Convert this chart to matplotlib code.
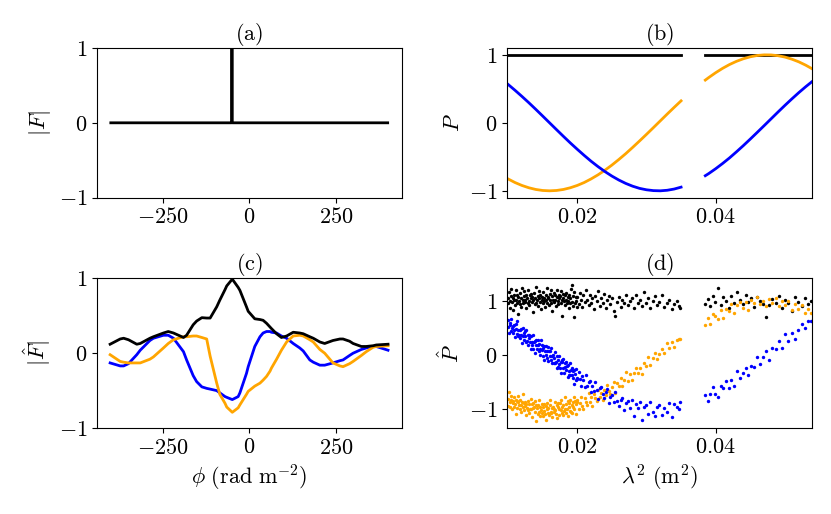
import numpy as np
import matplotlib
matplotlib.use("Agg")
import matplotlib.pyplot as plt

plt.rcParams["mathtext.fontset"] = "cm"
plt.rcParams["font.family"] = "serif"
plt.rcParams["font.serif"] = ["cmr10", "DejaVu Serif"]
plt.rcParams["axes.formatter.use_mathtext"] = True
plt.rcParams["font.size"] = 16

# (a) true Faraday spectrum
phi_a = [-400, -51, -50, -49, 400]
f_a = [0, 0, 1, 0, 0]

# (b) model polarisation, sampled every 0.001 m^2 (gap in coverage 0.035-0.0385)
lam2_b = [0.010, 0.011, 0.012, 0.013, 0.014, 0.015, 0.016, 0.017, 0.018, 0.019,
          0.020, 0.021, 0.022, 0.023, 0.024, 0.025, 0.026, 0.027, 0.028, 0.029,
          0.030, 0.031, 0.032, 0.033, 0.034, 0.035,
          0.0385, 0.039, 0.040, 0.041, 0.042, 0.043, 0.044, 0.045, 0.046, 0.047,
          0.048, 0.049, 0.050, 0.051, 0.052, 0.053, 0.054]
q_b = [-0.825, -0.878, -0.921, -0.955, -0.980, -0.995, -1.000, -0.995, -0.980, -0.955,
       -0.921, -0.878, -0.825, -0.765, -0.697, -0.622, -0.540, -0.454, -0.362, -0.267,
       -0.170, -0.071, 0.029, 0.129, 0.227, 0.323,
       0.628, 0.666, 0.737, 0.801, 0.857, 0.904, 0.942, 0.971, 0.990, 0.999,
       0.998, 0.987, 0.967, 0.936, 0.897, 0.848, 0.791]
u_b = [0.565, 0.479, 0.389, 0.296, 0.199, 0.100, 0.000, -0.100, -0.199, -0.296,
       -0.389, -0.479, -0.565, -0.644, -0.717, -0.783, -0.841, -0.891, -0.932, -0.964,
       -0.985, -0.997, -1.000, -0.992, -0.974, -0.946,
       -0.778, -0.746, -0.675, -0.598, -0.516, -0.427, -0.335, -0.239, -0.141, -0.042,
       0.058, 0.158, 0.256, 0.351, 0.443, 0.530, 0.612]
p_b = [1.0] * len(lam2_b)

# (c) reconstructed Faraday spectrum
phi_c = [-402, -373, -363, -349, -325, -315, -287, -277, -248, -234, -219, -190, -181,
         -162, -152, -137, -123, -113, -94, -85, -70, -65, -49, -32, -27, -8, -3, 16,
         31, 40, 50, 60, 64, 79, 93, 108, 127, 146, 156, 175, 185, 204, 218, 242, 262,
         271, 290, 300, 324, 338, 358, 367, 401]
absf_c = [0.12, 0.19, 0.20, 0.18, 0.12, 0.13, 0.20, 0.22, 0.27, 0.29, 0.27, 0.21, 0.24,
          0.38, 0.43, 0.475, 0.47, 0.47, 0.62, 0.71, 0.85, 0.90, 0.99, 0.88, 0.84, 0.62,
          0.56, 0.46, 0.45, 0.44, 0.40, 0.35, 0.33, 0.26, 0.21, 0.23, 0.28, 0.27, 0.26,
          0.22, 0.20, 0.15, 0.13, 0.17, 0.19, 0.19, 0.16, 0.13, 0.09, 0.09, 0.10, 0.11, 0.12]
imf_c = [-0.13, -0.17, -0.17, -0.14, -0.02, 0.04, 0.17, 0.20, 0.24, 0.24, 0.20, 0.02, -0.09,
         -0.30, -0.38, -0.45, -0.47, -0.48, -0.50, -0.53, -0.58, -0.59, -0.62, -0.58, -0.53,
         -0.27, -0.18, 0.09, 0.22, 0.27, 0.29, 0.29, 0.28, 0.27, 0.23, 0.20, 0.13, 0.07,
         0.03, -0.09, -0.12, -0.16, -0.16, -0.13, -0.10, -0.09, -0.03, 0.00, 0.05, 0.07,
         0.09, 0.09, 0.04]
ref_c = [-0.02, -0.11, -0.12, -0.13, -0.13, -0.13, -0.08, -0.05, 0.07, 0.13, 0.18, 0.22, 0.22,
         0.23, 0.23, 0.21, 0.19, -0.04, -0.40, -0.55, -0.67, -0.72, -0.79, -0.73, -0.69,
         -0.55, -0.51, -0.44, -0.40, -0.36, -0.31, -0.24, -0.20, -0.08, 0.04, 0.15, 0.23,
         0.24, 0.23, 0.18, 0.15, 0.05, 0.00, -0.13, -0.17, -0.18, -0.14, -0.11, -0.03, 0.02,
         0.08, 0.09, 0.10]

# (d) noisy observed polarisation
lam2_d = [0.01000, 0.01006, 0.01015, 0.01024, 0.01031, 0.01041, 0.01049, 0.01056, 0.01066, 0.01075,
          0.01083, 0.01090, 0.01100, 0.01108, 0.01115, 0.01125, 0.01133, 0.01141, 0.01150, 0.01158,
          0.01167, 0.01174, 0.01184, 0.01191, 0.01200, 0.01209, 0.01216, 0.01226, 0.01233, 0.01242,
          0.01250, 0.01259, 0.01266, 0.01276, 0.01283, 0.01292, 0.01300, 0.01309, 0.01317, 0.01325,
          0.01334, 0.01341, 0.01351, 0.01358, 0.01367, 0.01375, 0.01384, 0.01392, 0.01400, 0.01409,
          0.01417, 0.01426, 0.01433, 0.01442, 0.01451, 0.01458, 0.01468, 0.01475, 0.01484, 0.01492,
          0.01500, 0.01509, 0.01517, 0.01526, 0.01533, 0.01543, 0.01550, 0.01559, 0.01567, 0.01576,
          0.01584, 0.01592, 0.01601, 0.01608, 0.01618, 0.01625, 0.01634, 0.01642, 0.01651, 0.01659,
          0.01667, 0.01676, 0.01684, 0.01692, 0.01701, 0.01709, 0.01717, 0.01726, 0.01734, 0.01742,
          0.01751, 0.01759, 0.01768, 0.01775, 0.01785, 0.01792, 0.01801, 0.01809, 0.01818, 0.01826,
          0.01834, 0.01843, 0.01851, 0.01860, 0.01868, 0.01876, 0.01885, 0.01893, 0.01902, 0.01910,
          0.01918, 0.01927, 0.01935, 0.01944, 0.01952, 0.01960, 0.01969, 0.01977, 0.01986, 0.01994,
          0.02003, 0.02020, 0.02036, 0.02055, 0.02071, 0.02090, 0.02107, 0.02126, 0.02143, 0.02163,
          0.02181, 0.02201, 0.02220, 0.02240, 0.02260, 0.02281, 0.02301, 0.02323, 0.02344, 0.02366,
          0.02388, 0.02410, 0.02433, 0.02456, 0.02479, 0.02503, 0.02527, 0.02551, 0.02576, 0.02601,
          0.02626, 0.02652, 0.02678, 0.02705, 0.02732, 0.02759, 0.02787, 0.02815, 0.02844, 0.02873,
          0.02902, 0.02932, 0.02962, 0.02993, 0.03024, 0.03056, 0.03088, 0.03121, 0.03154, 0.03187,
          0.03221, 0.03256, 0.03291, 0.03326, 0.03362, 0.03398, 0.03435, 0.03472, 0.03490,
          0.03850, 0.03886, 0.03923, 0.03960, 0.03997, 0.04035, 0.04073, 0.04111, 0.04150, 0.04189,
          0.04228, 0.04268, 0.04308, 0.04349, 0.04390, 0.04431, 0.04473, 0.04515, 0.04557, 0.04600,
          0.04643, 0.04687, 0.04731, 0.04775, 0.04820, 0.04865, 0.04911, 0.04957, 0.05003, 0.05050,
          0.05097, 0.05145, 0.05193, 0.05241, 0.05290, 0.05339, 0.05370]
q_d = [-0.80, -0.93, -0.68, -0.87, -0.96, -0.82, -0.76, -1.00, -0.84, -0.89,
       -0.77, -0.95, -0.90, -0.82, -1.08, -0.85, -0.98, -0.87, -0.75, -0.92,
       -0.99, -0.82, -0.92, -1.05, -0.86, -0.96, -0.71, -1.02, -0.89, -0.93,
       -0.87, -1.11, -0.90, -0.97, -0.84, -1.02, -1.07, -0.91, -1.00, -0.80,
       -1.00, -0.91, -1.15, -0.88, -0.98, -0.95, -1.05, -0.84, -1.21, -0.92,
       -0.98, -1.09, -0.92, -1.04, -0.83, -1.13, -0.96, -1.01, -0.90, -1.06,
       -1.12, -0.96, -0.90, -1.03, -1.09, -0.94, -1.20, -0.99, -0.88, -1.06,
       -0.97, -1.11, -0.92, -0.82, -1.04, -1.07, -0.98, -1.15, -0.95, -1.00,
       -1.05, -0.86, -1.01, -1.08, -0.92, -1.16, -0.95, -0.89, -1.00, -1.11,
       -0.89, -1.01, -0.83, -1.06, -0.96, -1.11, -0.92, -1.03, -0.78, -1.00,
       -1.06, -0.91, -1.00, -0.85, -1.12, -0.88, -0.95, -1.03, -0.82, -1.05,
       -0.92, -1.06, -0.87, -0.95, -0.77, -1.00, -0.84, -1.08, -0.90, -0.82,
       -0.86, -1.00, -0.89, -0.77, -0.93, -0.99, -0.79, -0.86, -0.92, -0.70,
       -0.86, -0.78, -0.94, -0.71, -0.79, -0.85, -0.65, -0.78, -0.70, -0.82,
       -0.64, -0.74, -0.55, -0.67, -0.72, -0.59, -0.50, -0.70, -0.51, -0.56,
       -0.43, -0.56, -0.46, -0.31, -0.47, -0.34, -0.46, -0.33, -0.24, -0.32,
       -0.23, -0.35, -0.14, -0.19, -0.03, -0.18, -0.05, 0.04, -0.07, 0.03,
       0.11, 0.05, 0.22, 0.14, 0.24, 0.15, 0.29, 0.30, 0.30,
       0.56, 0.69, 0.58, 0.77, 0.72, 0.67, 0.83, 0.68, 0.85, 0.81,
       0.95, 0.78, 0.92, 0.98, 0.87, 0.98, 0.84, 1.03, 0.96, 1.07,
       0.94, 1.01, 0.91, 1.04, 0.97, 1.06, 0.91, 1.00, 0.92, 1.01,
       0.84, 0.95, 0.86, 0.93, 0.78, 0.85, 0.78]
u_d = [0.53, 0.65, 0.42, 0.56, 0.60, 0.45, 0.67, 0.51, 0.41, 0.54,
       0.56, 0.47, 0.34, 0.58, 0.48, 0.40, 0.63, 0.35, 0.47, 0.38,
       0.31, 0.46, 0.48, 0.37, 0.23, 0.50, 0.36, 0.41, 0.29, 0.45,
       0.36, 0.25, 0.46, 0.27, 0.37, 0.18, 0.31, 0.38, 0.24, 0.12,
       0.36, 0.24, 0.18, 0.38, 0.12, 0.25, 0.27, 0.04, 0.28, 0.18,
       0.12, 0.29, 0.19, 0.07, 0.20, 0.11, 0.00, 0.29, 0.10, 0.18,
       0.14, -0.01, 0.17, -0.08, 0.08, 0.17, 0.00, 0.07, -0.05, 0.15,
       -0.10, 0.07, -0.01, 0.07, -0.08, 0.14, -0.14, -0.02, 0.00, -0.15,
       -0.06, -0.15, 0.06, -0.13, -0.23, -0.02, -0.09, -0.22, -0.01, -0.16,
       -0.23, -0.12, -0.33, -0.08, -0.12, -0.24, -0.07, -0.33, -0.22, -0.14,
       -0.12, -0.27, -0.20, -0.40, -0.18, -0.36, -0.30, -0.14, -0.36, -0.28,
       -0.36, -0.23, -0.43, -0.30, -0.53, -0.28, -0.34, -0.45, -0.26, -0.42,
       -0.44, -0.31, -0.44, -0.57, -0.38, -0.46, -0.58, -0.36, -0.56, -0.50,
       -0.47, -0.68, -0.56, -0.66, -0.49, -0.64, -0.80, -0.61, -0.59, -0.72,
       -0.79, -0.68, -0.63, -0.88, -0.77, -0.73, -0.87, -0.68, -0.85, -0.94,
       -0.83, -0.79, -1.02, -0.88, -0.84, -0.97, -0.83, -1.12, -0.91, -0.97,
       -0.87, -1.19, -0.96, -0.92, -1.08, -0.87, -1.04, -1.13, -0.95, -0.92,
       -1.11, -0.97, -1.05, -0.89, -1.14, -0.90, -0.96, -0.99, -0.86,
       -0.73, -0.84, -0.71, -0.59, -0.72, -0.78, -0.56, -0.61, -0.47, -0.60,
       -0.46, -0.56, -0.30, -0.43, -0.33, -0.24, -0.36, -0.19, -0.21, -0.04,
       -0.16, -0.03, 0.07, -0.08, 0.13, 0.11, 0.26, 0.14, 0.39, 0.26,
       0.41, 0.30, 0.47, 0.58, 0.50, 0.63, 0.64]
p_d = [1.06, 0.96, 1.17, 1.00, 0.88, 1.09, 1.23, 0.98, 1.05, 0.84,
       1.12, 1.02, 0.93, 1.20, 1.03, 0.97, 1.11, 0.76, 1.08, 1.00,
       0.94, 1.15, 1.05, 0.90, 1.25, 1.02, 0.96, 1.09, 1.18, 0.98,
       1.03, 0.87, 1.12, 1.06, 0.97, 1.21, 1.00, 0.93, 1.11, 1.05,
       1.14, 0.98, 1.08, 0.80, 1.02, 1.15, 0.94, 1.06, 1.27, 0.97,
       1.02, 1.09, 0.91, 1.18, 1.05, 0.98, 1.12, 0.85, 1.08, 1.03,
       0.96, 1.17, 1.06, 1.00, 0.90, 1.11, 1.03, 1.24, 0.97, 1.08,
       1.05, 0.93, 1.14, 1.02, 1.21, 0.97, 0.82, 1.09, 1.03, 1.15,
       0.98, 1.11, 1.02, 0.91, 1.08, 1.20, 1.00, 0.94, 1.12, 1.05,
       1.09, 0.97, 1.18, 1.03, 0.72, 1.06, 1.14, 1.00, 0.93, 1.11,
       1.02, 1.15, 0.96, 1.08, 1.00, 0.88, 1.12, 1.05, 0.97, 1.23,
       1.29, 0.98, 1.09, 0.91, 0.70, 1.17, 0.96, 1.08, 1.00, 0.90,
       1.08, 0.94, 1.15, 1.02, 0.90, 1.11, 0.98, 1.21, 1.03, 0.93,
       1.12, 0.96, 1.05, 0.85, 1.09, 1.00, 1.18, 0.91, 1.06, 0.97,
       1.14, 0.88, 1.02, 1.09, 0.94, 1.05, 0.82, 0.73, 0.98, 1.08,
       0.90, 1.03, 0.96, 1.12, 0.93, 1.00, 1.06, 0.87, 1.11, 0.97,
       1.03, 0.91, 1.17, 0.96, 1.05, 0.88, 1.00, 1.09, 0.93, 0.98,
       1.12, 0.90, 0.96, 1.03, 0.85, 0.94, 1.00, 0.91, 0.88,
       0.95, 1.04, 0.91, 1.10, 0.99, 1.25, 0.92, 1.07, 1.01, 0.87,
       1.09, 0.96, 1.16, 1.03, 0.94, 1.12, 0.99, 1.05, 0.90, 1.08,
       1.00, 0.95, 0.70, 0.92, 1.04, 0.97, 1.09, 0.88, 1.03, 0.96,
       0.81, 1.07, 0.99, 0.91, 1.05, 0.95, 1.00]

GAP_LO, GAP_HI = 0.035, 0.0385


def main():
    fig, axs = plt.subplots(2, 2, figsize=(8.31, 5.14), dpi=100)
    fig.subplots_adjust(left=0.1167, right=0.977, bottom=0.1673, top=0.9066,
                        wspace=0.3475, hspace=0.54)
    ax_a, ax_b = axs[0]
    ax_c, ax_d = axs[1]

    # (a)
    ax_a.plot(phi_a, f_a, color="black", lw=2)
    ax_a.set_ylim(-1, 1)
    ax_a.set_xlim(-440, 440)
    ax_a.set_ylabel(r"$|F|$")
    ax_a.set_title(r"$\mathrm{(a)}$", fontsize=16, pad=3)

    # (b)
    lam2 = np.array(lam2_b)
    for m in (lam2 <= GAP_LO, lam2 >= GAP_HI):
        ax_b.plot(lam2[m], np.array(p_b)[m], color="black", lw=2)
        ax_b.plot(lam2[m], np.array(q_b)[m], color="orange", lw=2)
        ax_b.plot(lam2[m], np.array(u_b)[m], color="blue", lw=2)
    ax_b.set_xlim(0.0099, 0.0539)
    ax_b.set_ylim(-1.1, 1.1)
    ax_b.set_xticks([0.02, 0.04])
    ax_b.set_ylabel(r"$P$")
    ax_b.set_title(r"$\mathrm{(b)}$", fontsize=16, pad=3)

    # (c)
    ax_c.plot(phi_c, imf_c, color="blue", lw=2)
    ax_c.plot(phi_c, ref_c, color="orange", lw=2)
    ax_c.plot(phi_c, absf_c, color="black", lw=2)
    ax_c.set_ylim(-1, 1)
    ax_c.set_xlim(-440, 440)
    ax_c.set_ylabel(r"$|\hat{F}|$")
    ax_c.set_xlabel(r"$\phi\ \mathrm{(rad\ m^{-2})}$")
    ax_c.set_title(r"$\mathrm{(c)}$", fontsize=16, pad=3)

    # (d)
    ax_d.scatter(lam2_d, p_d, s=6, color="black", linewidths=0)
    ax_d.scatter(lam2_d, q_d, s=6, color="orange", linewidths=0)
    ax_d.scatter(lam2_d, u_d, s=6, color="blue", linewidths=0)
    ax_d.set_xlim(0.0099, 0.0539)
    ax_d.set_ylim(-1.345, 1.42)
    ax_d.set_xticks([0.02, 0.04])
    ax_d.set_ylabel(r"$\hat{P}$")
    ax_d.set_xlabel(r"$\lambda^2\ \mathrm{(m^2)}$")
    ax_d.set_title(r"$\mathrm{(d)}$", fontsize=16, pad=3)

    for ax in axs.flat:
        ax.set_yticks([-1, 0, 1])

    fig.savefig("out.png", dpi=100)


if __name__ == "__main__":
    main()
